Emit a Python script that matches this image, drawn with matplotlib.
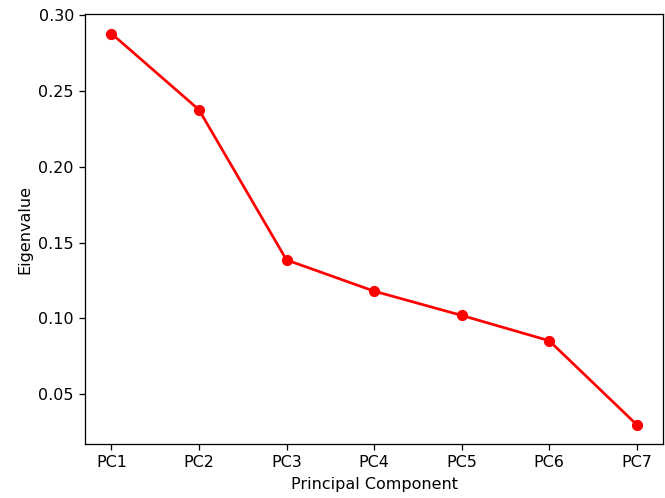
import matplotlib
matplotlib.use("Agg")
import matplotlib.pyplot as plt

components = ["PC1", "PC2", "PC3", "PC4", "PC5", "PC6", "PC7"]
eigenvalues = [0.288, 0.2377, 0.1386, 0.118, 0.102, 0.0853, 0.0299]

# rendered a bit larger than default dpi to match the reference text size
dpi = 115
fig = plt.figure(figsize=(665 / dpi, 498 / dpi), dpi=dpi)
ax = fig.add_subplot(111)
fig.subplots_adjust(left=0.128, right=0.997, top=0.972, bottom=0.108)

ax.plot(components, eigenvalues, marker="o", color="red", linewidth=1.7)

ax.set_xlabel("Principal Component")
ax.set_ylabel("Eigenvalue")

fig.savefig("out.png", dpi=dpi)
